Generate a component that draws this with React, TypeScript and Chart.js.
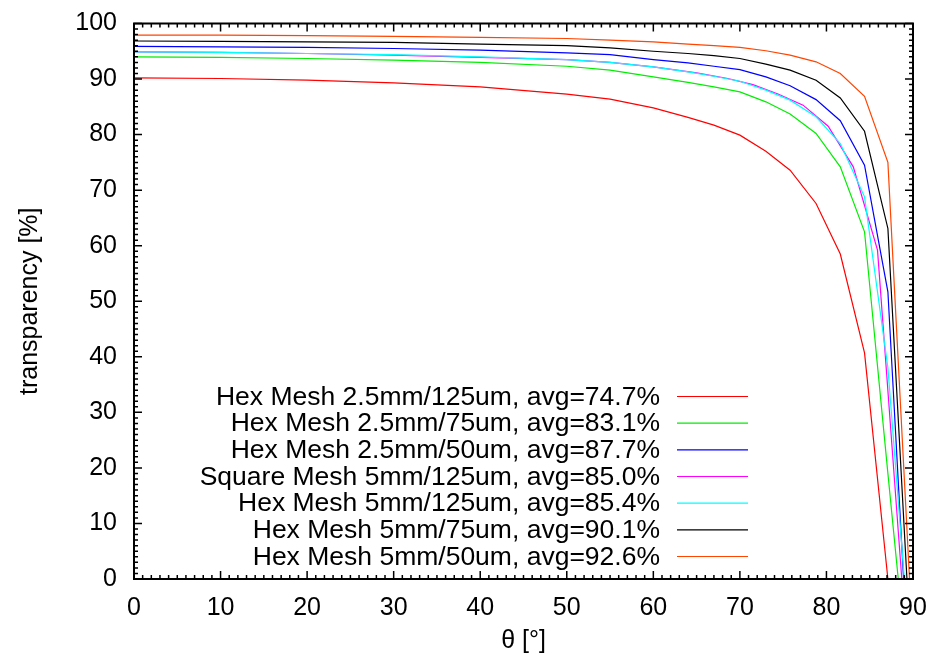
import React, { useEffect, useRef } from "react";
import { Chart, registerables } from "chart.js";

Chart.register(...registerables);

// angle grids (degrees)
const thetaHex = [0, 10, 20, 30, 40, 50, 55, 60, 64, 67, 70, 73, 75.8, 78.8, 81.6, 84.4, 87.1, 90];
const thetaSquare = [0, 10, 20, 30, 40, 50, 55, 60, 65, 68.6, 71.5, 74.4, 77.3, 80.2, 83.1, 85.9, 88.8, 90];

// transparency [%]
const hex25_125 = [90.2, 90.1, 89.8, 89.3, 88.6, 87.3, 86.4, 84.8, 83.1, 81.7, 79.9, 77.0, 73.6, 67.6, 58.5, 40.7, 0, -40];
const hex25_75 = [94.0, 93.9, 93.7, 93.4, 93.0, 92.3, 91.6, 90.4, 89.4, 88.6, 87.7, 85.9, 83.7, 80.2, 74.2, 62.5, 19, -27];
const hex25_50 = [95.9, 95.8, 95.7, 95.5, 95.2, 94.7, 94.4, 93.5, 92.9, 92.3, 91.7, 90.4, 88.8, 86.3, 82.5, 74.5, 51.7, -31];
const sq5_125 = [94.9, 94.8, 94.6, 94.3, 93.9, 93.5, 93.0, 92.2, 91.1, 90.1, 89.0, 87.3, 85.3, 81.5, 74.2, 59.2, -2, -30];
const hex5_125 = [94.9, 94.8, 94.6, 94.4, 94.0, 93.5, 93.0, 92.2, 91.3, 90.5, 89.6, 88.0, 86.2, 83.2, 78.4, 68.8, 38, -20];
const hex5_75 = [96.85, 96.8, 96.7, 96.6, 96.3, 96.0, 95.6, 95.0, 94.6, 94.2, 93.7, 92.7, 91.6, 89.8, 86.6, 80.6, 63.1, -20];
const hex5_50 = [97.9, 97.9, 97.8, 97.7, 97.5, 97.3, 97.0, 96.7, 96.3, 96.0, 95.7, 95.1, 94.3, 93.1, 91.0, 86.9, 75.0, -12];

const seriesLabels = [
  "Hex Mesh 2.5mm/125um, avg=74.7%",
  "Hex Mesh 2.5mm/75um, avg=83.1%",
  "Hex Mesh 2.5mm/50um, avg=87.7%",
  "Square Mesh 5mm/125um, avg=85.0%",
  "Hex Mesh 5mm/125um, avg=85.4%",
  "Hex Mesh 5mm/75um, avg=90.1%",
  "Hex Mesh 5mm/50um, avg=92.6%",
];
const seriesColors = ["#ff0000", "#00ee00", "#0000ff", "#ff00ff", "#00ffff", "#000000", "#ff4500"];
const seriesValues = [hex25_125, hex25_75, hex25_50, sq5_125, hex5_125, hex5_75, hex5_50];
const seriesTheta = [thetaHex, thetaHex, thetaHex, thetaSquare, thetaHex, thetaHex, thetaHex];

const xTicks = [0, 10, 20, 30, 40, 50, 60, 70, 80, 90];
const yTicks = [0, 10, 20, 30, 40, 50, 60, 70, 80, 90, 100];

const FONT = "'Liberation Sans', Arial, Helvetica, sans-serif";
const FS = 25;
const KEY_FS = 26.5;

const framePlugin = {
  id: "frame",
  afterDatasetsDraw(chart: any) {
    const { ctx, chartArea: a, scales } = chart;
    const xs = scales.x;
    const ys = scales.y;
    ctx.save();
    ctx.strokeStyle = "#000";
    ctx.lineWidth = 1.5;
    ctx.beginPath();
    // minor + major ticks, inward, all four sides
    for (let v = 0; v <= 90; v += 1) {
      const px = xs.getPixelForValue(v);
      const len = v % 10 === 0 ? 8 : 4;
      ctx.moveTo(px, a.bottom);
      ctx.lineTo(px, a.bottom - len);
      ctx.moveTo(px, a.top);
      ctx.lineTo(px, a.top + len);
    }
    for (let v = 0; v <= 100; v += 1) {
      const py = ys.getPixelForValue(v);
      const len = v % 10 === 0 ? 8 : 4;
      ctx.moveTo(a.left, py);
      ctx.lineTo(a.left + len, py);
      ctx.moveTo(a.right, py);
      ctx.lineTo(a.right - len, py);
    }
    ctx.stroke();
    ctx.lineWidth = 2;
    ctx.strokeRect(a.left, a.top, a.right - a.left, a.bottom - a.top);

    // key
    ctx.font = `${KEY_FS}px ${FONT}`;
    ctx.fillStyle = "#000";
    ctx.textAlign = "right";
    ctx.textBaseline = "middle";
    const textRight = a.left + 526;
    const lineL = a.left + 543;
    const lineR = a.left + 614;
    const y0 = a.top + 373;
    const dy = 26.67;
    chart.data.datasets.forEach((ds: any, i: number) => {
      const y = y0 + dy * i;
      ctx.fillText(ds.label, textRight, y + 1);
      ctx.strokeStyle = ds.borderColor;
      ctx.lineWidth = 1.2;
      ctx.beginPath();
      ctx.moveTo(lineL, y);
      ctx.lineTo(lineR, y);
      ctx.stroke();
    });
    ctx.restore();
  },
};

export default function App() {
  const ref = useRef<HTMLCanvasElement | null>(null);
  useEffect(() => {
    if (!ref.current) return;
    const n = seriesLabels.length;
    const chart = new Chart(ref.current, {
      type: "line",
      data: {
        datasets: seriesLabels.map((label, i) => ({
          label,
          data: seriesTheta[i].map((t, j) => ({ x: t, y: seriesValues[i][j] })),
          borderColor: seriesColors[i],
          backgroundColor: seriesColors[i],
          borderWidth: 1.2,
          pointRadius: 0,
          tension: 0,
          fill: false,
          order: n - i,
        })),
      },
      options: {
        animation: false,
        responsive: false,
        maintainAspectRatio: false,
        layout: { padding: { top: 23.5, right: 22, left: 0, bottom: 0 } },
        plugins: { legend: { display: false }, tooltip: { enabled: false } },
        scales: {
          x: {
            type: "linear",
            min: 0,
            max: 90,
            afterBuildTicks: (s: any) => {
              s.ticks = xTicks.map((v) => ({ value: v }));
            },
            afterFit: (s: any) => {
              s.height = 81;
              s.paddingLeft = 0;
              s.paddingRight = 0;
            },
            grid: { display: false, drawTicks: false },
            border: { display: false },
            ticks: { color: "#000", font: { family: FONT, size: FS }, padding: 14, maxRotation: 0 },
            title: {
              display: true,
              text: "θ [°]",
              color: "#000",
              font: { family: FONT, size: FS },
              padding: { top: 0, bottom: 4 },
            },
          },
          y: {
            type: "linear",
            min: 0,
            max: 100,
            afterBuildTicks: (s: any) => {
              s.ticks = yTicks.map((v) => ({ value: v }));
            },
            afterFit: (s: any) => {
              s.width = 134;
              s.paddingTop = 0;
              s.paddingBottom = 0;
            },
            grid: { display: false, drawTicks: false },
            border: { display: false },
            ticks: { color: "#000", font: { family: FONT, size: FS }, padding: 17 },
            title: {
              display: true,
              text: "transparency [%]",
              color: "#000",
              font: { family: FONT, size: FS },
              padding: { top: 15, bottom: 0 },
            },
          },
        },
      },
      plugins: [framePlugin],
    });
    return () => chart.destroy();
  }, []);
  return (
    <div style={{ position: "absolute", left: 0, top: 0, width: 935, height: 660, background: "#fff" }}>
      <canvas ref={ref} width={935} height={660} style={{ width: 935, height: 660, display: "block" }} />
    </div>
  );
}
